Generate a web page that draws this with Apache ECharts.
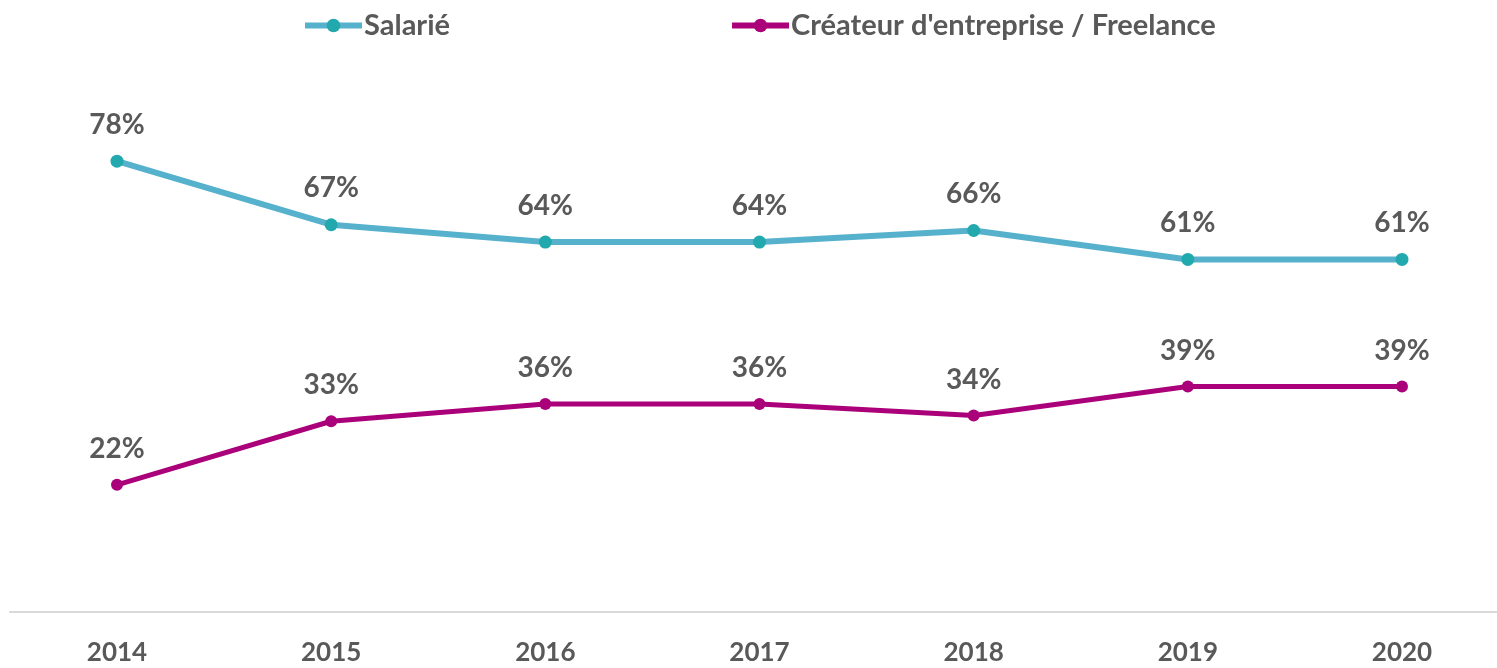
<!DOCTYPE html>
<html><head><meta charset="utf-8">
<script src="https://cdn.jsdelivr.net/npm/echarts@6/dist/echarts.min.js"></script>
<style>html,body{margin:0;padding:0;background:#fff}#c{width:1497px;height:668px}</style>
</head><body><div id="c"></div>
<script>
const years = ['2014','2015','2016','2017','2018','2019','2020'];
const salarie = [78,67,64,64,66,61,61];
const createur = [22,33,36,36,34,39,39];
const names = ['Salarié', "Créateur d'entreprise / Freelance"];

const FONT = 'Lato';
const chart = echarts.init(document.getElementById('c'));
const labelStyle = {show:true, position:'top', distance:16, formatter: p => p.value + '%',
  fontFamily:FONT, fontWeight:'bold', fontSize:28, color:'#595959'};
chart.setOption({
  animation:false,
  legend:{top:6, left:297, itemWidth:57, itemHeight:17, itemGap:279,
    lineStyle:{width:6},
    textStyle:{fontFamily:FONT, fontWeight:'bold', fontSize:29, color:'#595959', padding:[0,0,0,-3]},
    data:names},
  grid:[{left:117, top:34, right:95, bottom:56},
        {left:10, top:34, right:0, bottom:56}],
  xAxis:[{type:'category', data:years, boundaryGap:false, gridIndex:0,
    axisLine:{show:false}, axisTick:{show:false},
    axisLabel:{fontFamily:FONT, fontWeight:'bold', fontSize:26, color:'#595959', margin:28}},
    {type:'category', data:years, gridIndex:1, axisLine:{lineStyle:{color:'#d9d9d9', width:2}},
     axisTick:{show:false}, axisLabel:{show:false}}],
  yAxis:[{type:'value', min:0, max:100, show:false, splitLine:{show:false}, gridIndex:0},
         {type:'value', min:0, max:100, show:false, splitLine:{show:false}, gridIndex:1}],
  series:[
    {name:names[0], type:'line', data:salarie, symbol:'circle', symbolSize:13,
     lineStyle:{color:'#56B1CC', width:6}, itemStyle:{color:'#21A9AE'}, label:labelStyle, z:3},
    {name:names[1], type:'line', data:createur, symbol:'circle', symbolSize:12,
     lineStyle:{color:'#AA0079', width:5}, itemStyle:{color:'#AA0079'}, label:labelStyle, z:3}
  ]
});
</script></body></html>
